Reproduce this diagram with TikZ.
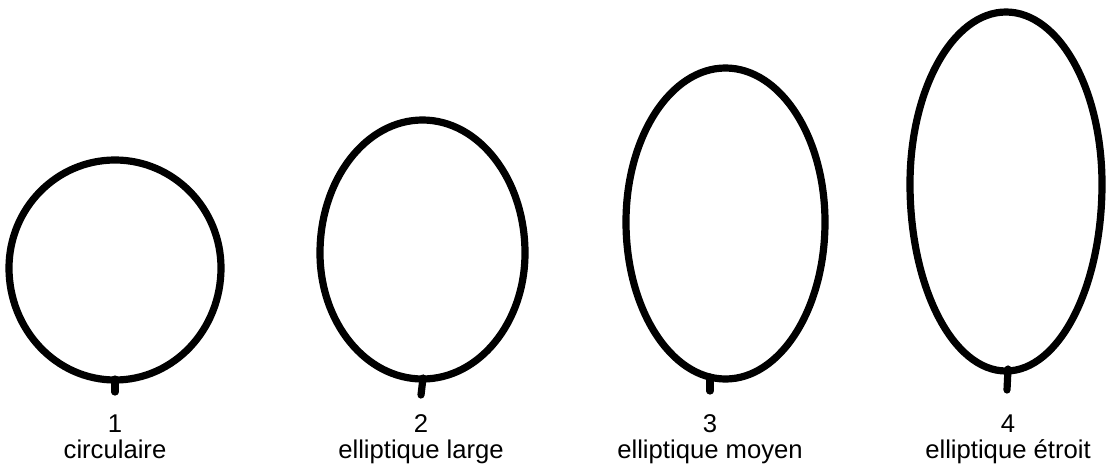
\documentclass[tikz,border=0pt]{standalone}
\usepackage{fontspec}
\setmainfont{Liberation Sans}
\usetikzlibrary{positioning}
\tikzset{
  outline/.style={line width=4.1pt, line join=round, line cap=round},
  numlabel/.style={font=\fontsize{14.6}{17}\selectfont, inner sep=0pt, anchor=base},
  namelabel/.style={font=\fontsize{14.6}{17}\selectfont, inner sep=0pt, anchor=base}
}

\begin{document}
\begin{tikzpicture}[x=0.02cm,y=-0.02cm]
  \useasboundingbox (0,0) rectangle (1109,474);
  % 1 circulaire
  \draw[outline] (9,268) arc[start angle=180, end angle=360, x radius=106, y radius=108]
    arc[start angle=0, end angle=180, x radius=106, y radius=112] -- cycle;
  \draw[outline] (115,379) -- (115,392);
  % 2 elliptique large
  \draw[outline] (320,253) arc[start angle=180, end angle=360, x radius=102.5, y radius=133]
    arc[start angle=0, end angle=180, x radius=102.5, y radius=126] -- cycle;
  \draw[outline] (423,378) -- (421,395);
  % 3 elliptique moyen
  \draw[outline] (626,222) arc[start angle=180, end angle=360, x radius=99.5, y radius=154]
    arc[start angle=0, end angle=180, x radius=99.5, y radius=157] -- cycle;
  \draw[outline] (710,377) -- (710,391);
  % 4 elliptique etroit
  \draw[outline] (910,184) arc[start angle=180, end angle=360, x radius=96, y radius=172]
    arc[start angle=0, end angle=180, x radius=96, y radius=187] -- cycle;
  \draw[outline] (1008,369) -- (1007,390);
  % labels
  \node[numlabel] (n1) at (115,432) {1};
  \node[namelabel] (t1) at (115,458) {circulaire};
  \node[numlabel] (n2) at (421,432) {2};
  \node[namelabel] (t2) at (421,458) {elliptique large};
  \node[numlabel] (n3) at (710,432) {3};
  \node[namelabel] (t3) at (710,458) {elliptique moyen};
  \node[numlabel] (n4) at (1008,432) {4};
  \node[namelabel] (t4) at (1008,458) {elliptique étroit};
\end{tikzpicture}
\end{document}
